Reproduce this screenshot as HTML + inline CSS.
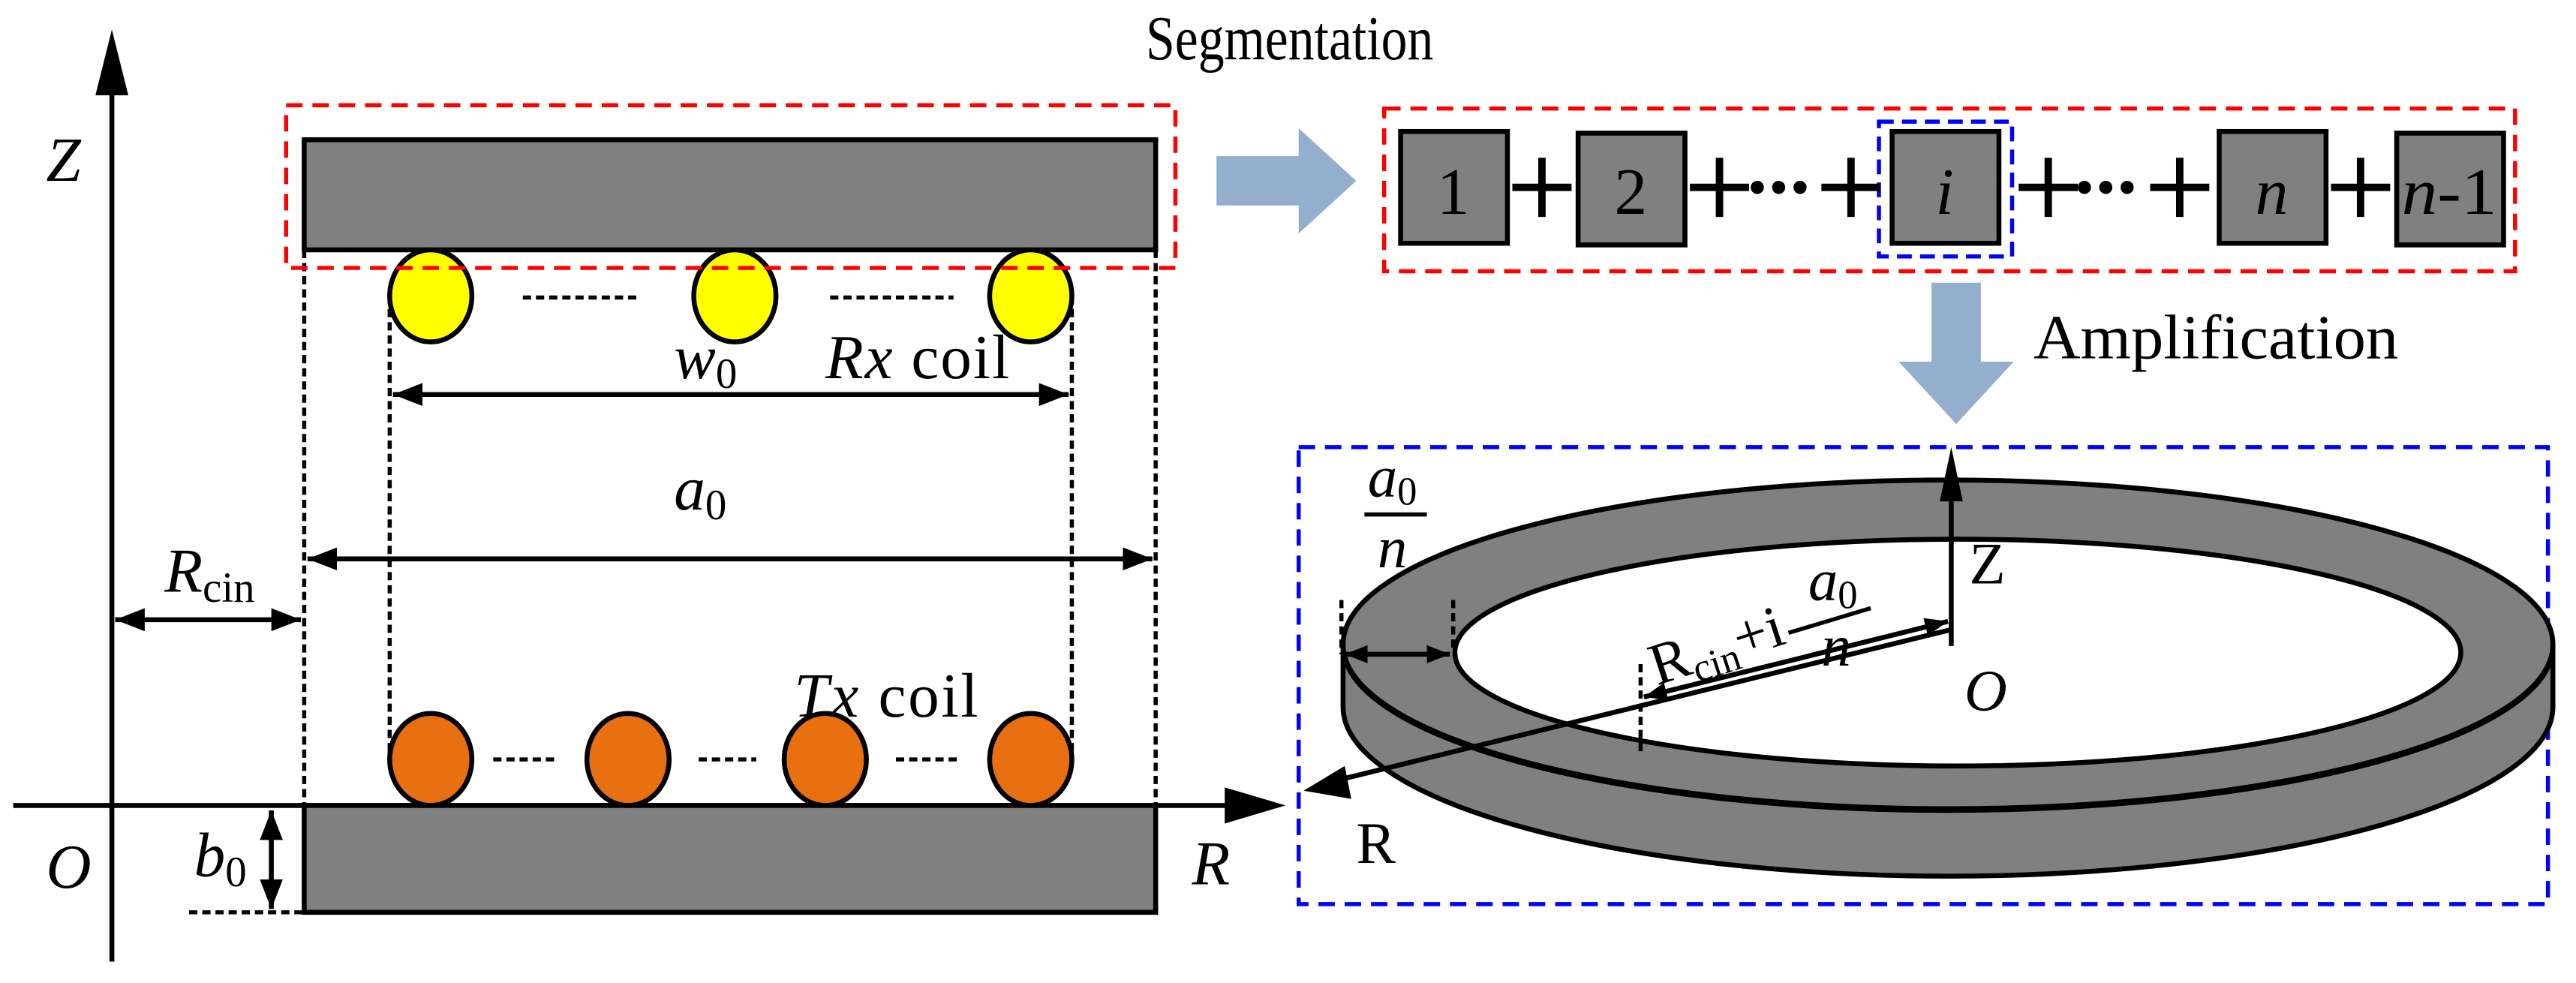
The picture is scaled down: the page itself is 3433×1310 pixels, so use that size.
<!DOCTYPE html>
<html><head><meta charset="utf-8"><style>html,body{margin:0;padding:0;background:#fff}svg{display:block}text{font-family:"Liberation Serif","DejaVu Serif",serif}</style></head>
<body>
<svg width="3433" height="1310" viewBox="0 0 1567 598" xmlns="http://www.w3.org/2000/svg">
<defs>
<marker id="ah" viewBox="0 0 10 10" refX="10" refY="5" markerWidth="18" markerHeight="14" markerUnits="userSpaceOnUse" orient="auto-start-reverse" preserveAspectRatio="none"><path d="M0,0L10,5L0,10z" fill="#000"/></marker>
<marker id="ahs" viewBox="0 0 10 10" refX="10" refY="5" markerWidth="14" markerHeight="11" markerUnits="userSpaceOnUse" orient="auto-start-reverse" preserveAspectRatio="none"><path d="M0,0L10,5L0,10z" fill="#000"/></marker>
</defs>
<rect width="1567" height="598" fill="#fff"/>
<line x1="68" y1="585" x2="68" y2="50" stroke="#000" stroke-width="3"/>
<polygon points="68,18 58,58 78,58" fill="#000"/>
<line x1="8" y1="490" x2="750" y2="490" stroke="#000" stroke-width="3"/>
<polygon points="782,490 745,479 745,501" fill="#000"/>
<g font-size="38" font-style="italic">
<text x="28" y="110">Z</text>
<text x="28" y="540">O</text>
<text x="725" y="538">R</text>
</g>
<rect x="185" y="85" width="518" height="67" fill="#808080" stroke="#000" stroke-width="3"/>
<rect x="185" y="490" width="518" height="65" fill="#808080" stroke="#000" stroke-width="3"/>
<g stroke="#000" stroke-width="2.5" stroke-dasharray="5,3" fill="none">
<line x1="185" y1="152" x2="185" y2="555"/>
<line x1="703" y1="152" x2="703" y2="490"/>
<line x1="237" y1="180" x2="237" y2="465"/>
<line x1="652" y1="180" x2="652" y2="465"/>
<line x1="115" y1="555" x2="185" y2="555"/>
<line x1="318" y1="181" x2="390" y2="181"/>
<line x1="505" y1="181" x2="580" y2="181"/>
<line x1="300" y1="462" x2="338" y2="462"/>
<line x1="425" y1="462" x2="460" y2="462"/>
<line x1="545" y1="462" x2="585" y2="462"/>
</g>
<g stroke="#000" stroke-width="3">
<ellipse cx="262" cy="180" rx="25" ry="28" fill="#ffff00"/>
<ellipse cx="447" cy="180" rx="25" ry="28" fill="#ffff00"/>
<ellipse cx="627" cy="180" rx="25" ry="28" fill="#ffff00"/>
<ellipse cx="262" cy="462" rx="25" ry="28" fill="#e87010"/>
<ellipse cx="382" cy="462" rx="25" ry="28" fill="#e87010"/>
<ellipse cx="502" cy="462" rx="25" ry="28" fill="#e87010"/>
<ellipse cx="627" cy="462" rx="25" ry="28" fill="#e87010"/>
</g>
<rect x="174" y="64" width="541" height="99" fill="none" stroke="#f00" stroke-width="2.5" stroke-dasharray="10,6"/>
<g stroke="#000" stroke-width="3" marker-start="url(#ah)" marker-end="url(#ah)">
<line x1="239" y1="240" x2="650" y2="240"/>
<line x1="187" y1="340" x2="701" y2="340"/>
<line x1="70" y1="377" x2="183" y2="377"/>
<line x1="165" y1="493" x2="165" y2="553"/>
</g>
<g font-size="38">
<text x="410" y="230" font-style="italic">w<tspan font-size="26" font-style="normal" dy="6">0</tspan></text>
<text x="502" y="230" textLength="112"><tspan font-style="italic">Rx</tspan> coil</text>
<text x="410" y="310" font-style="italic">a<tspan font-size="26" font-style="normal" dy="6">0</tspan></text>
<text x="100" y="360" font-style="italic">R<tspan font-size="26" font-style="normal" dy="6">cin</tspan></text>
<text x="483" y="436" textLength="112"><tspan font-style="italic">Tx</tspan> coil</text>
<text x="118" y="533" font-style="italic">b<tspan font-size="26" font-style="normal" dy="6">0</tspan></text>
<text x="697" y="36" textLength="175" lengthAdjust="spacingAndGlyphs">Segmentation</text>
<text x="1237" y="218" textLength="222" lengthAdjust="spacingAndGlyphs">Amplification</text>
</g>
<polygon points="740,95 790,95 790,78 825,110 790,142 790,125 740,125" fill="#94aece"/>
<rect x="842" y="66" width="688" height="99" fill="none" stroke="#f00" stroke-width="2.5" stroke-dasharray="10,6"/>
<g fill="#808080" stroke="#000" stroke-width="3">
<rect x="852" y="80" width="65" height="68"/>
<rect x="960" y="81" width="65" height="68"/>
<rect x="1151" y="80" width="65" height="68"/>
<rect x="1350" y="80" width="65" height="68"/>
<rect x="1458" y="81" width="65" height="68"/>
</g>
<rect x="1143" y="74" width="81" height="82" fill="none" stroke="#00f" stroke-width="2.5" stroke-dasharray="9,5"/>
<g font-size="40" text-anchor="middle">
<text x="884" y="130">1</text>
<text x="992" y="130">2</text>
<text x="1183" y="130" font-style="italic">i</text>
<text x="1382" y="130" font-style="italic">n</text>
<text x="1490" y="130" textLength="58" lengthAdjust="spacingAndGlyphs"><tspan font-style="italic">n</tspan>-1</text>
</g>
<g stroke="#000" stroke-width="4.5">
<path d="M920,114h36M938,96v36"/>
<path d="M1028,114h36M1046,96v36"/>
<path d="M1108,114h36M1126,96v36"/>
<path d="M1228,114h36M1246,96v36"/>
<path d="M1308,114h36M1326,96v36"/>
<path d="M1418,114h36M1436,96v36"/>
</g>
<g fill="#000">
<circle cx="1069" cy="114" r="4"/><circle cx="1082" cy="114" r="4"/><circle cx="1095" cy="114" r="4"/>
<circle cx="1268" cy="114" r="4"/><circle cx="1281" cy="114" r="4"/><circle cx="1294" cy="114" r="4"/>
</g>
<polygon points="1175,172 1205,172 1205,220 1225,220 1190,258 1155,220 1175,220" fill="#94aece"/>
<rect x="790" y="272" width="760" height="278" fill="none" stroke="#00f" stroke-width="2.5" stroke-dasharray="10,6"/>
<path d="M817,393 L817,430 A368,103 0 0 0 1553,430 L1553,393 Z" fill="#808080" stroke="#000" stroke-width="3"/>
<ellipse cx="1185" cy="392" rx="368" ry="100" fill="#808080" stroke="#000" stroke-width="3"/>
<ellipse cx="1191" cy="397" rx="306" ry="69" fill="#fff" stroke="#000" stroke-width="3"/>
<path d="M817,393 A368,100 0 0 0 1553,393" fill="none" stroke="#000" stroke-width="3"/>
<line x1="1187" y1="393" x2="1187" y2="300" stroke="#000" stroke-width="3"/>
<polygon points="1187,272 1180,305 1194,305" fill="#000"/>
<line x1="1187" y1="383" x2="808" y2="476" stroke="#000" stroke-width="3"/>
<polygon points="793,481 818,466 822,486" fill="#000"/>
<line x1="1185" y1="378" x2="1000" y2="424" stroke="#000" stroke-width="3" marker-start="url(#ahs)" marker-end="url(#ahs)"/>
<g stroke="#000" stroke-width="2.5" stroke-dasharray="5,3">
<line x1="998" y1="404" x2="998" y2="458"/>
<line x1="816" y1="365" x2="816" y2="398"/>
<line x1="884" y1="365" x2="884" y2="395"/>
</g>
<line x1="818" y1="398" x2="882" y2="398" stroke="#000" stroke-width="3" marker-start="url(#ahs)" marker-end="url(#ahs)"/>
<g font-size="36">
<text x="832" y="302" font-style="italic">a<tspan font-size="24" font-style="normal" dy="5">0</tspan></text>
<line x1="830" y1="313" x2="868" y2="313" stroke="#000" stroke-width="2.5"/>
<text x="838" y="345" font-style="italic">n</text>
<text x="1198" y="355">Z</text>
<text x="1195" y="432" font-style="italic">O</text>
<text x="825" y="525">R</text>
<g transform="translate(1008,417) rotate(-18)"><text x="0" y="0">R<tspan font-size="24" dy="6">cin</tspan><tspan dy="-6">+i</tspan></text></g>
<text x="1100" y="365" font-style="italic">a<tspan font-size="24" font-style="normal" dy="5">0</tspan></text>
<line x1="1088" y1="385" x2="1138" y2="370" stroke="#000" stroke-width="2.5"/>
<text x="1108" y="405" font-style="italic">n</text>
</g>
</svg>
</body></html>
